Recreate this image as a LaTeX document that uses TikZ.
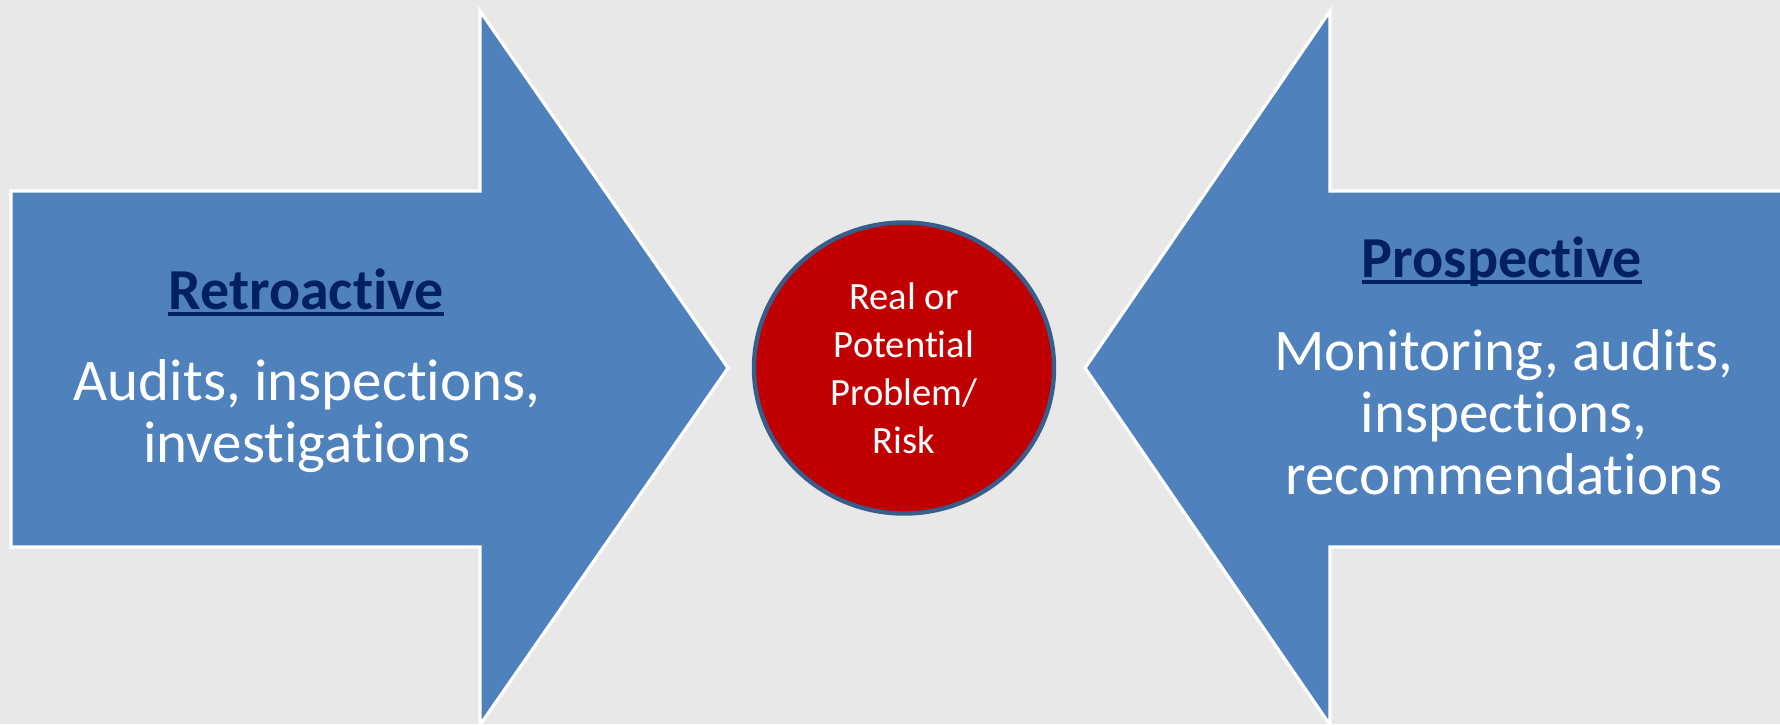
\documentclass[tikz,border=0pt]{standalone}
\usepackage{fontspec}
\setmainfont[Ligatures=NoCommon]{Carlito}
\usetikzlibrary{positioning,shapes.geometric}
\usepackage{xcolor}
\definecolor{arrowblue}{HTML}{4F81BD}
\definecolor{riskred}{HTML}{C00000}
\definecolor{rimblue}{HTML}{385D8A}
\definecolor{headnavy}{HTML}{002060}
\definecolor{paper}{HTML}{E8E8E8}
% underlined heading, rule at a fixed depth (crosses descenders)
\newcommand{\headrule}[1]{\setbox0=\hbox{#1}\rlap{\rule[-0.12em]{\wd0}{0.07em}}\box0}

\begin{document}
\begin{tikzpicture}[x=0.5pt,y=-0.5pt,
    blockarrow/.style={fill=arrowblue,draw=white,line width=1.6pt,line join=miter},
    headtext/.style={text=headnavy,anchor=base,font=\fontsize{29}{34}\selectfont\bfseries},
    bodytext/.style={text=white,align=center,font=\fontsize{29.5}{31}\selectfont},
    riskcircle/.style={ellipse,fill=riskred,draw=rimblue,line width=2.2pt,minimum width=150pt,minimum height=145.5pt,inner sep=0pt,
        text=white,align=center,font=\fontsize{19.3}{24}\selectfont}]
        \useasboundingbox (0,0) rectangle (1780,724);
        \clip (0,0) rectangle (1780,724);
        \fill[paper] (0,0) rectangle (1780,724); % background

        % Left arrow pointing right
        \draw[blockarrow] (11,191) -- (480,191) -- (480,11) -- (728,368) -- (480,725) -- (480,547) -- (11,547) -- cycle;

        % Right arrow pointing left
        \draw[blockarrow] (1790,191) -- (1330,191) -- (1330,11) -- (1085,368) -- (1330,725) -- (1330,547) -- (1790,547);

        % Centre circle
        \node[riskcircle] (risk) at (904,368) {Real or\\Potential\\Problem/\\Risk};

        % Labels for the left arrow
        \node[headtext] (retro) at (306,309) {\headrule{Retroactive}};
        \node[bodytext] (retrobody) at (307,416) {Audits, inspections,\\investigations};

        % Labels for the right arrow
        \node[headtext] (prosp) at (1502,277) {\headrule{Prospective}};
        \node[bodytext] (prospbody) at (1504,412) {Monitoring, audits,\\inspections,\\recommendations};
\end{tikzpicture}
\end{document}
